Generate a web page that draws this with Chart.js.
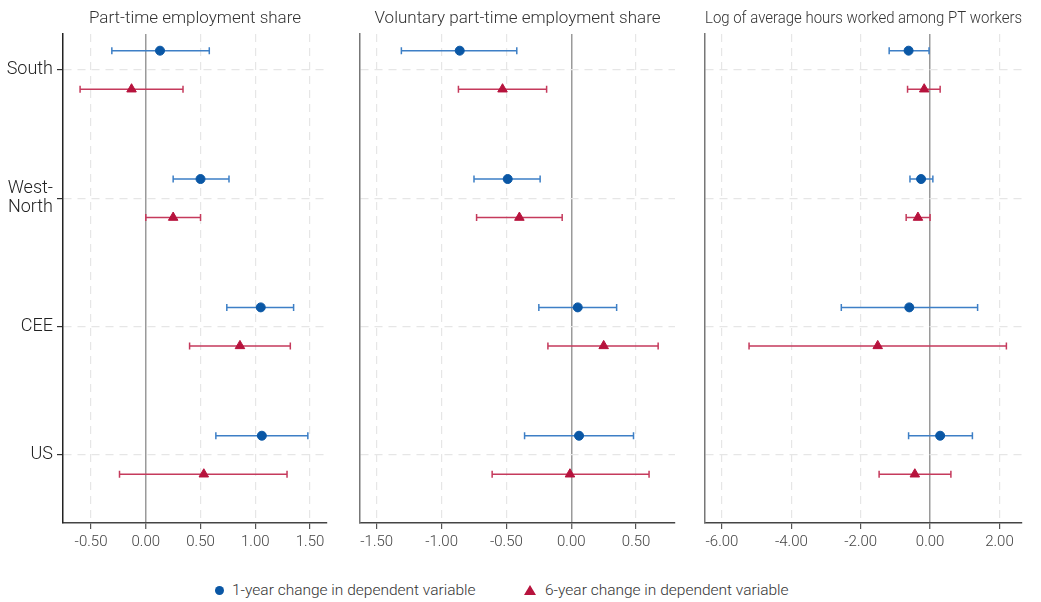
<!DOCTYPE html>
<html>
<head>
<meta charset="utf-8">
<script src="https://cdn.jsdelivr.net/npm/chart.js@4.4.1/dist/chart.umd.min.js"></script>
<style>
  html,body{margin:0;padding:0;background:#fff;}
  body{width:1041px;height:602px;position:relative;overflow:hidden;font-family:Roboto,"Open Sans",sans-serif;}
  .panel{position:absolute;top:0;height:560px;}
  #p1{left:0;width:335px;}
  #p2{left:340px;width:343px;}
  #p3{left:685px;width:345px;}
  .legend{position:absolute;top:580px;height:20px;font-size:15.5px;font-weight:300;color:#333;line-height:20px;white-space:nowrap;}
  .legend .dot{position:absolute;left:-17px;top:6px;width:9px;height:9px;border-radius:50%;background:#0a57a5;}
  .legend .tri{position:absolute;left:-21px;top:5px;width:0;height:0;border-left:6px solid transparent;border-right:6px solid transparent;border-bottom:10px solid #b7133d;}
</style>
</head>
<body>
<div class="panel" id="p1"><canvas id="c1"></canvas></div>
<div class="panel" id="p2"><canvas id="c2"></canvas></div>
<div class="panel" id="p3"><canvas id="c3"></canvas></div>
<div class="legend" style="left:232px"><span class="dot"></span>1-year change in dependent variable</div>
<div class="legend" style="left:545px"><span class="tri"></span>6-year change in dependent variable</div>

<script>
// regions, top to bottom
const regions = ['South', ['West-', 'North'], 'CEE', 'US'];

// part-time employment share
const pt1y   = [0.13, 0.50, 1.05, 1.06];
const pt1yLo = [-0.31, 0.25, 0.74, 0.64];
const pt1yHi = [0.58, 0.76, 1.35, 1.48];
const pt6y   = [-0.13, 0.25, 0.86, 0.53];
const pt6yLo = [-0.60, 0.00, 0.40, -0.24];
const pt6yHi = [0.34, 0.50, 1.32, 1.29];
const ptTicks = [-0.5, 0, 0.5, 1, 1.5];

// voluntary part-time employment share
const vol1y   = [-0.86, -0.49, 0.05, 0.06];
const vol1yLo = [-1.31, -0.75, -0.25, -0.36];
const vol1yHi = [-0.42, -0.24, 0.35, 0.48];
const vol6y   = [-0.53, -0.40, 0.25, -0.01];
const vol6yLo = [-0.87, -0.73, -0.18, -0.61];
const vol6yHi = [-0.19, -0.07, 0.67, 0.60];
const volTicks = [-1.5, -1, -0.5, 0, 0.5];

// log of average hours among PT workers
const hrs1y   = [-0.62, -0.26, -0.60, 0.29];
const hrs1yLo = [-1.18, -0.58, -2.56, -0.62];
const hrs1yHi = [-0.03, 0.08, 1.37, 1.22];
const hrs6y   = [-0.17, -0.35, -1.51, -0.44];
const hrs6yLo = [-0.65, -0.69, -5.22, -1.47];
const hrs6yHi = [0.29, 0.00, 2.20, 0.60];
const hrsTicks = [-6, -4, -2, 0, 2];

const BLUE = '#0a57a5', BLUE_BAR = '#3d7fc6';
const RED = '#b7133d', RED_BAR = '#c53a5c';
const SHIFT = 0.15;   // vertical offset of the two estimates around each region

// horizontal CI whiskers with end caps
const errorBars = {
  id: 'errorBars',
  beforeDatasetsDraw(chart) {
    const {ctx, scales: {x, y}} = chart;
    chart.data.datasets.forEach(ds => {
      ctx.save();
      ctx.strokeStyle = ds.barColor;
      ctx.lineWidth = 1.5;
      ds.data.forEach(p => {
        const yy = y.getPixelForValue(p.y);
        const x1 = x.getPixelForValue(p.lo), x2 = x.getPixelForValue(p.hi);
        ctx.beginPath();
        ctx.moveTo(x1, yy); ctx.lineTo(x2, yy);
        ctx.moveTo(x1, yy - 3.5); ctx.lineTo(x1, yy + 3.5);
        ctx.moveTo(x2, yy - 3.5); ctx.lineTo(x2, yy + 3.5);
        ctx.stroke();
      });
      ctx.restore();
    });
  }
};

function pts(est, lo, hi, off) {
  return est.map((v, i) => ({x: v, y: i + 1 + off, lo: lo[i], hi: hi[i]}));
}

function buildPanel(id, title, s1, s6, ticks, xmin, xmax, first) {
  return new Chart(document.getElementById(id), {
    type: 'scatter',
    data: {datasets: [
      {label: '1-year change in dependent variable', data: pts(s1[0], s1[1], s1[2], -SHIFT),
       pointStyle: 'circle', pointRadius: 4.5, backgroundColor: BLUE, borderColor: BLUE, borderWidth: 1, barColor: BLUE_BAR},
      {label: '6-year change in dependent variable', data: pts(s6[0], s6[1], s6[2], SHIFT),
       pointStyle: 'triangle', pointRadius: 5.5, backgroundColor: RED, borderColor: RED, borderWidth: 1, barColor: RED_BAR},
    ]},
    options: {
      responsive: true, maintainAspectRatio: false, animation: false,
      layout: {padding: {left: 0, right: 8, top: 0, bottom: 0}},
      plugins: {
        legend: {display: false},
        tooltip: {enabled: false},
        title: {display: true, text: title, fullSize: false, color: '#333',
          font: {family: 'Roboto', size: 17, weight: '300', lineHeight: 1.2},
          padding: {top: 9, bottom: 4.6}},
      },
      scales: {
        x: {
          type: 'linear', min: xmin, max: xmax,
          afterBuildTicks: s => { s.ticks = ticks.map(v => ({value: v})); },
          afterFit: s => { s.height = 37; },
          ticks: {color: '#444', padding: 4, font: {family: 'Roboto', size: 15, weight: '300'},
            callback: v => v.toFixed(2)},
          grid: {
            color: c => c.tick && c.tick.value === 0 ? '#9a9a9a' : '#e6e6e6',
            lineWidth: c => c.tick && c.tick.value === 0 ? 1.5 : 1.2,
            tickColor: '#555', tickLength: 6, tickWidth: 1.2,
          },
          border: {color: '#444', width: 1.5, dash: c => c.tick && c.tick.value === 0 ? [] : [8, 6]},
        },
        y: {
          type: 'linear', min: 0.72, max: 4.53, reverse: true,
          afterBuildTicks: s => { s.ticks = regions.map((r, i) => ({value: i + 1})); },
          afterFit: s => { s.width = first ? 63 : 20; },
          ticks: {display: first, color: '#222', padding: 4, font: {family: 'Roboto', size: 18, weight: '300', lineHeight: 1.06},
            callback: (v) => regions[v - 1]},
          grid: {color: '#e6e6e6', lineWidth: 1.2, drawTicks: first, tickColor: '#333', tickLength: 6, tickWidth: 1.2},
          border: {color: first ? '#222' : '#777', width: 1.5, dash: [8, 6]},
        },
      },
    },
    plugins: [errorBars],
  });
}

buildPanel('c1', 'Part-time employment share',
  [pt1y, pt1yLo, pt1yHi], [pt6y, pt6yLo, pt6yHi], ptTicks, -0.756, 1.655, true);
buildPanel('c2', 'Voluntary part-time employment share',
  [vol1y, vol1yLo, vol1yHi], [vol6y, vol6yLo, vol6yHi], volTicks, -1.629, 0.80, false);
buildPanel('c3', 'Log of average hours worked among PT workers',
  [hrs1y, hrs1yLo, hrs1yHi], [hrs6y, hrs6yLo, hrs6yHi], hrsTicks, -6.49, 2.65, false);
</script>
</body>
</html>
